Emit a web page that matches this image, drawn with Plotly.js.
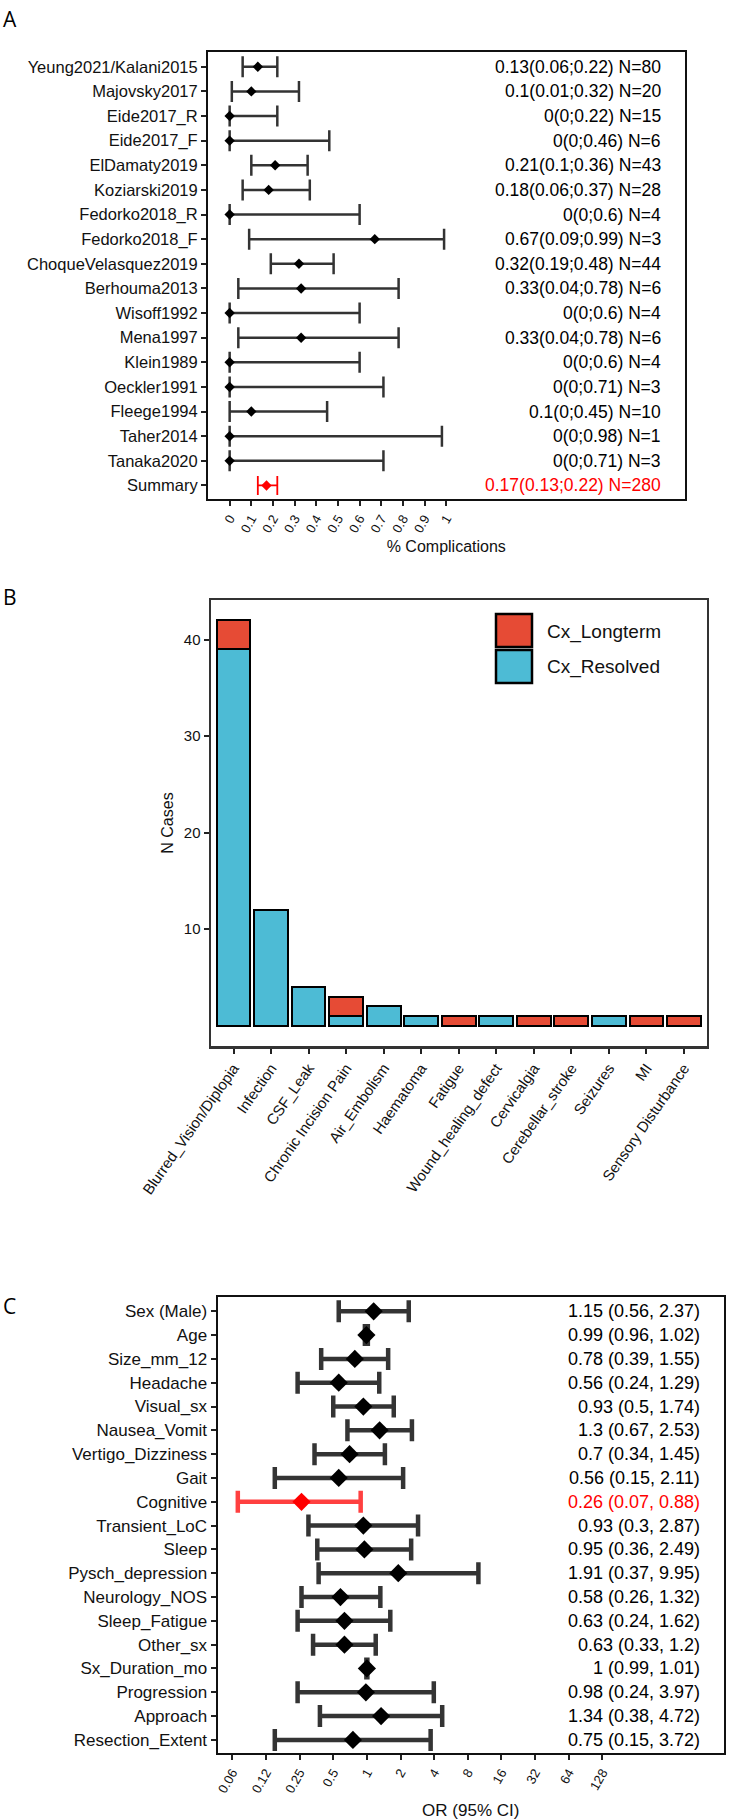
<!DOCTYPE html>
<html>
<head>
<meta charset="utf-8">
<script src="https://cdn.plot.ly/plotly-3.0.1.min.js"></script>
<style>
html,body{margin:0;padding:0;background:#fff;}
#chart{width:730px;height:1820px;}
</style>
</head>
<body>
<div id="chart"></div>
<script>
// ---------- Panel A data ----------
const studyNames = ["Yeung2021/Kalani2015","Majovsky2017","Eide2017_R","Eide2017_F","ElDamaty2019","Koziarski2019","Fedorko2018_R","Fedorko2018_F","ChoqueVelasquez2019","Berhouma2013","Wisoff1992","Mena1997","Klein1989","Oeckler1991","Fleege1994","Taher2014","Tanaka2020","Summary"];
const studyEst = [0.13,0.1,0,0,0.21,0.18,0,0.67,0.32,0.33,0,0.33,0,0,0.1,0,0,0.17];
const studyLo  = [0.06,0.01,0,0,0.1,0.06,0,0.09,0.19,0.04,0,0.04,0,0,0,0,0,0.13];
const studyHi  = [0.22,0.32,0.22,0.46,0.36,0.37,0.6,0.99,0.48,0.78,0.6,0.78,0.6,0.71,0.45,0.98,0.71,0.22];
const studyN   = [80,20,15,6,43,28,4,3,44,6,4,6,4,3,10,1,3,280];
const studyHighlight = "Summary";
const aTickVals = [0,0.1,0.2,0.3,0.4,0.5,0.6,0.7,0.8,0.9,1];
const aTitle = "% Complications";

// ---------- Panel B data ----------
const cxCategories = ["Blurred_Vision/Diplopia","Infection","CSF_Leak","Chronic Incision Pain","Air_Embolism","Haematoma","Fatigue","Wound_healing_defect","Cervicalgia","Cerebellar_stroke","Seizures","MI","Sensory Disturbance"];
const cxResolved = [39,12,4,1,2,1,0,1,0,0,1,0,0];
const cxLongterm = [3,0,0,2,0,0,1,0,1,1,0,1,1];
const cxSeriesNames = ["Cx_Longterm","Cx_Resolved"];
const bTickVals = [10,20,30,40];
const bTitle = "N Cases";

// ---------- Panel C data ----------
const predictors = ["Sex (Male)","Age","Size_mm_12","Headache","Visual_sx","Nausea_Vomit","Vertigo_Dizziness","Gait","Cognitive","Transient_LoC","Sleep","Pysch_depression","Neurology_NOS","Sleep_Fatigue","Other_sx","Sx_Duration_mo","Progression","Approach","Resection_Extent"];
const orEst = [1.15,0.99,0.78,0.56,0.93,1.3,0.7,0.56,0.26,0.93,0.95,1.91,0.58,0.63,0.63,1,0.98,1.34,0.75];
const orLo  = [0.56,0.96,0.39,0.24,0.5,0.67,0.34,0.15,0.07,0.3,0.36,0.37,0.26,0.24,0.33,0.99,0.24,0.38,0.15];
const orHi  = [2.37,1.02,1.55,1.29,1.74,2.53,1.45,2.11,0.88,2.87,2.49,9.95,1.32,1.62,1.2,1.01,3.97,4.72,3.72];
const orHighlight = "Cognitive";
const cTickVals = [0.0625,0.125,0.25,0.5,1,2,4,8,16,32,64,128];
const cTickText = ["0.06","0.12","0.25","0.5","1","2","4","8","16","32","64","128"];
const cTitle = "OR (95% CI)";

const panelLetters = ["A","B","C"];

// ---------- styles ----------
const FONT = "Liberation Sans, Arial, Helvetica, sans-serif";
const RED = "#FF0000";
const BAR_RED = "#E64B35";
const BAR_BLUE = "#4DBBD5";
const W = 730, H = 1820;
const px2x = p => p / W;
const px2y = p => 1 - p / H;

function pick(arr, idx){ return idx.map(i => arr[i]); }

const traces = [];
const annotations = [];
const shapes = [];

// ---------- Panel A traces ----------
(function(){
  const all = studyNames.map((_, i) => i);
  const groups = [
    {idx: all.filter(i => studyNames[i] !== studyHighlight), color: "#333333", mcolor: "#000000", thick: 2.5, w: 10.5},
    {idx: all.filter(i => studyNames[i] === studyHighlight), color: RED, mcolor: RED, thick: 1.8, w: 9.5}
  ];
  groups.forEach(g => {
    const est = pick(studyEst, g.idx), lo = pick(studyLo, g.idx), hi = pick(studyHi, g.idx);
    traces.push({
      type: "scatter", mode: "markers", xaxis: "x", yaxis: "y",
      x: est, y: pick(studyNames, g.idx),
      marker: {symbol: "diamond", size: 8, color: g.mcolor},
      error_x: {type: "data", symmetric: false,
        array: est.map((e, k) => hi[k] - e), arrayminus: est.map((e, k) => e - lo[k]),
        color: g.color, thickness: g.thick, width: g.w},
      showlegend: false, hoverinfo: "skip"
    });
  });
  studyNames.forEach((nm, i) => {
    annotations.push({
      xref: "x", yref: "y", x: 2.0, y: nm, xanchor: "right", yanchor: "middle",
      text: studyEst[i] + "(" + studyLo[i] + ";" + studyHi[i] + ") N=" + studyN[i],
      showarrow: false,
      font: {family: FONT, size: 17.5, color: nm === studyHighlight ? RED : "#000000"}
    });
  });
})();

// ---------- Panel B traces ----------
traces.push({
  type: "bar", xaxis: "x2", yaxis: "y2", name: cxSeriesNames[1],
  x: cxCategories, y: cxResolved,
  marker: {color: BAR_BLUE, line: {color: "#000000", width: 2}},
  showlegend: false, hoverinfo: "skip"
});
traces.push({
  type: "bar", xaxis: "x2", yaxis: "y2", name: cxSeriesNames[0],
  x: cxCategories, y: cxLongterm,
  marker: {color: BAR_RED, line: {color: "#000000", width: 2}},
  showlegend: false, hoverinfo: "skip"
});
// legend keys (decoration)
[[BAR_RED, 614, 647, 632], [BAR_BLUE, 650, 683, 667]].forEach((k, i) => {
  shapes.push({type: "rect", xref: "paper", yref: "paper",
    x0: px2x(496), x1: px2x(532), y0: px2y(k[2]), y1: px2y(k[1]),
    fillcolor: k[0], line: {color: "#000000", width: 2.5}});
  annotations.push({xref: "paper", yref: "paper", x: px2x(545), y: px2y(k[3]),
    xanchor: "left", yanchor: "middle", text: cxSeriesNames[i], showarrow: false,
    font: {family: FONT, size: 19, color: "#111"}});
});

// ---------- Panel C traces ----------
(function(){
  const all = predictors.map((_, i) => i);
  const groups = [
    {idx: all.filter(i => predictors[i] !== orHighlight), color: "rgba(30,30,30,0.9)", mcolor: "#000000"},
    {idx: all.filter(i => predictors[i] === orHighlight), color: "rgba(255,30,30,0.85)", mcolor: RED}
  ];
  groups.forEach(g => {
    const est = pick(orEst, g.idx), lo = pick(orLo, g.idx), hi = pick(orHi, g.idx);
    traces.push({
      type: "scatter", mode: "markers", xaxis: "x3", yaxis: "y3",
      x: est, y: pick(predictors, g.idx),
      marker: {symbol: "diamond", size: 14, color: g.mcolor},
      error_x: {type: "data", symmetric: false,
        array: est.map((e, k) => hi[k] - e), arrayminus: est.map((e, k) => e - lo[k]),
        color: g.color, thickness: 4.5, width: 11},
      showlegend: false, hoverinfo: "skip"
    });
  });
  predictors.forEach((nm, i) => {
    annotations.push({
      xref: "x3", yref: "y3", x: 3.0, y: nm, xanchor: "right", yanchor: "middle",
      text: orEst[i] + " (" + orLo[i] + ", " + orHi[i] + ")",
      showarrow: false,
      font: {family: FONT, size: 18, color: nm === orHighlight ? RED : "#000000"}
    });
  });
  shapes.push({type: "line", xref: "x3", yref: "y3 domain", x0: 0, x1: 0, y0: 0, y1: 1,
    line: {color: "#A8A8A8", width: 1.5, dash: "dash"}, layer: "below"});
})();

// panel letters
[[panelLetters[0], 3], [panelLetters[1], 581], [panelLetters[2], 1290]].forEach(p => {
  annotations.push({xref: "paper", yref: "paper", x: px2x(1), y: px2y(p[1]),
    xanchor: "left", yanchor: "top", text: p[0], showarrow: false,
    font: {family: "Open Sans, Noto Sans, sans-serif", size: 21, color: "#000"}});
});

const frame = (c, w) => ({showline: true, mirror: true, linecolor: c, linewidth: w, ticks: "outside",
  ticklen: 5, tickwidth: 2, tickcolor: "#222", showgrid: false, zeroline: false, automargin: false, fixedrange: true});

const layout = {
  width: W, height: H,
  margin: {l: 0, r: 0, t: 0, b: 0},
  paper_bgcolor: "#ffffff", plot_bgcolor: "#ffffff",
  font: {family: FONT, color: "#000"},
  barmode: "stack", bargap: 0.1,
  showlegend: false,
  xaxis: Object.assign(frame("#111", 2), {
    domain: [px2x(208), px2x(684.5)], anchor: "y",
    range: [-0.1, 2.1], tickvals: aTickVals, tickangle: -60,
    tickfont: {family: FONT, size: 13, color: "#111"},
    title: {text: aTitle, font: {family: FONT, size: 16, color: "#111"}, standoff: 6}
  }),
  yaxis: Object.assign(frame("#111", 2), {
    domain: [px2y(499), px2y(52)], anchor: "x", type: "category",
    categoryorder: "array", categoryarray: studyNames,
    range: [17.55, -0.6],
    tickfont: {family: FONT, size: 16.5, color: "#111"}
  }),
  xaxis2: Object.assign(frame("#333", 2.5), {
    domain: [px2x(211), px2x(706.5)], anchor: "y2", type: "category",
    categoryorder: "array", categoryarray: cxCategories,
    range: [-0.6, 12.6], tickangle: -55,
    tickfont: {family: FONT, size: 15, color: "#111"}
  }),
  yaxis2: Object.assign(frame("#333", 2.5), {
    domain: [px2y(1046), px2y(600)], anchor: "x2",
    range: [-2.1, 44.1], tickvals: bTickVals,
    tickfont: {family: FONT, size: 15, color: "#111"},
    title: {text: bTitle, font: {family: FONT, size: 16, color: "#111"}, standoff: 6}
  }),
  xaxis3: Object.assign(frame("#111", 2), {
    domain: [px2x(217.5), px2x(724)], anchor: "y3", type: "log",
    range: [-1.3366, 3.1954], tickvals: cTickVals, ticktext: cTickText, tickangle: -60,
    tickfont: {family: FONT, size: 13, color: "#111"},
    title: {text: cTitle, font: {family: FONT, size: 17, color: "#111"}, standoff: 9}
  }),
  yaxis3: Object.assign(frame("#111", 2), {
    domain: [px2y(1753), px2y(1297)], anchor: "x3", type: "category",
    categoryorder: "array", categoryarray: predictors,
    range: [18.55, -0.6],
    tickfont: {family: FONT, size: 17, color: "#111"}
  }),
  annotations: annotations,
  shapes: shapes
};

Plotly.newPlot("chart", traces, layout, {staticPlot: true, displayModeBar: false});
</script>
</body>
</html>
